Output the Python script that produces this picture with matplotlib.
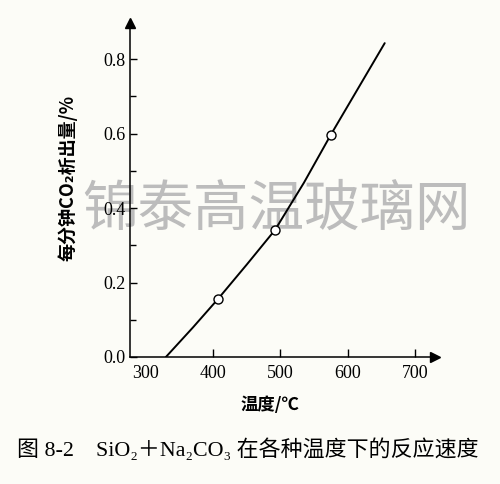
import matplotlib
matplotlib.use("Agg")
import matplotlib.pyplot as plt

# data
marker_x = [407, 492, 575]
marker_y = [0.155, 0.341, 0.597]
curve_x = [330, 370, 407, 450, 492, 535, 575, 615, 655]
curve_y = [0.0, 0.079, 0.155, 0.248, 0.341, 0.468, 0.597, 0.72, 0.843]
xticks = [300, 400, 500, 600, 700]
yticks = [0.0, 0.2, 0.4, 0.6, 0.8]
yminor = [0.1, 0.3, 0.5, 0.7]

bg = '#fcfcf7'
fig = plt.figure(figsize=(5.0, 4.84), dpi=100, facecolor=bg)
ax = fig.add_axes([0.26, 0.2624, 0.61, 0.690])
ax.set_facecolor('none')
ax.set_zorder(1)

ax.plot(curve_x, curve_y, color='black', lw=1.4, zorder=3, solid_capstyle='round')
ax.plot(marker_x, marker_y, 'o', ms=6.5, mfc='white', mec='black', mew=1.0, zorder=4)

ax.set_xlim(276.7, 729.7)
ax.set_ylim(0, 0.897)

for s in ['top', 'right']:
    ax.spines[s].set_visible(False)
for s in ['left', 'bottom']:
    ax.spines[s].set_linewidth(1.1)

# arrows at axis ends
ax.plot(1, 0, marker='>', color='black', ms=7, transform=ax.transAxes, clip_on=False)
ax.plot(0, 1, marker='^', color='black', ms=7, transform=ax.transAxes, clip_on=False)

ax.set_xticks(xticks)
ax.set_xticklabels([str(v) for v in xticks])
ax.set_yticks(yticks)
ax.set_yticklabels(['%.1f' % v for v in yticks])
ax.set_yticks(yminor, minor=True)
ax.tick_params(axis='x', direction='in', length=6, width=1.0, pad=6)
ax.tick_params(axis='y', which='major', direction='in', length=5, width=1.0, pad=3)
ax.tick_params(axis='y', which='minor', direction='in', length=4, width=1.0)
ax.xaxis.get_major_ticks()[0].tick1line.set_visible(False)
for lab in ax.get_xticklabels() + ax.get_yticklabels():
    lab.set_fontfamily('Liberation Serif')
    lab.set_fontsize(13)

cjk = ['Noto Sans CJK SC', 'DejaVu Sans']
fig.text(68 / 500, 1 - 178 / 484, '每分钟CO₂析出量/%', rotation=90, ha='center', va='center',
         fontsize=13, family=cjk, weight='bold')
fig.text(270 / 500, 1 - 405 / 484, '温度/℃', ha='center', va='center',
         fontsize=12.5, family=cjk, weight='bold')
fig.text(17 / 500, 1 - 450 / 484, '图 8-2    SiO₂＋Na₂CO₃ 在各种温度下的反应速度',
         ha='left', va='center', fontsize=15.8, family=['Liberation Serif', 'Noto Sans CJK SC', 'DejaVu Sans'])

# watermark (drawn beneath the axes)
fig.text(276 / 500, 1 - 210 / 484, '锦泰高温玻璃网', ha='center', va='center', fontsize=40,
         color='#bcbcbc', family=cjk, zorder=0)

fig.savefig('out.png', dpi=100, facecolor=bg)
